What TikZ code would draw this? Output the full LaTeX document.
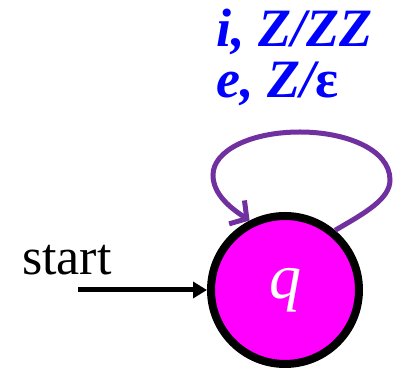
\documentclass[tikz,border=0pt]{standalone}
\usepackage{fontspec}
\setmainfont{Liberation Serif}
\usetikzlibrary{arrows.meta}
\definecolor{loopc}{HTML}{7030A0}
\definecolor{labc}{HTML}{0000FF}
\definecolor{statec}{HTML}{FF00FF}
\tikzset{
  statebox/.style={circle, draw=black, line width=8pt, fill=statec, minimum size=148pt, inner sep=0pt, text=white, font=\fontsize{64}{64}\selectfont\itshape},
  labtext/.style={text=labc, font=\fontsize{54}{54}\selectfont\bfseries\itshape, inner sep=0pt, anchor=base west},
  looparrow/.style={draw=loopc, line width=5pt, -{Straight Barb[length=12pt,width=28pt,line width=5pt]}},
  startarrow/.style={draw=black, line width=5pt, -{Triangle[length=14pt,width=16pt]}}
}
\begin{document}
\begin{tikzpicture}[x=1pt,y=1pt]
\useasboundingbox (0,0) rectangle (400,369);
\node[statebox] (q) at (285,79) {q};
\node[labtext] (l1) at (216,322) {i, Z/ZZ};
\node[labtext] (l2) at (216,271) {e, Z/{\upshape\char"03B5}};
\node[font=\fontsize{52}{52}\selectfont, inner sep=0pt, anchor=base west] (st) at (22,94) {start};
\coordinate (s0) at (78,79);
\draw[startarrow] (s0) -- (q.west);
\draw[looparrow] (q.50) .. controls (365,156) and (390,170) .. (390,189)
  .. controls (390,220) and (345,237) .. (300,237)
  .. controls (250,237) and (213,218) .. (213,194)
  .. controls (213,174) and (232,160) .. (q.117);
\end{tikzpicture}
\end{document}
